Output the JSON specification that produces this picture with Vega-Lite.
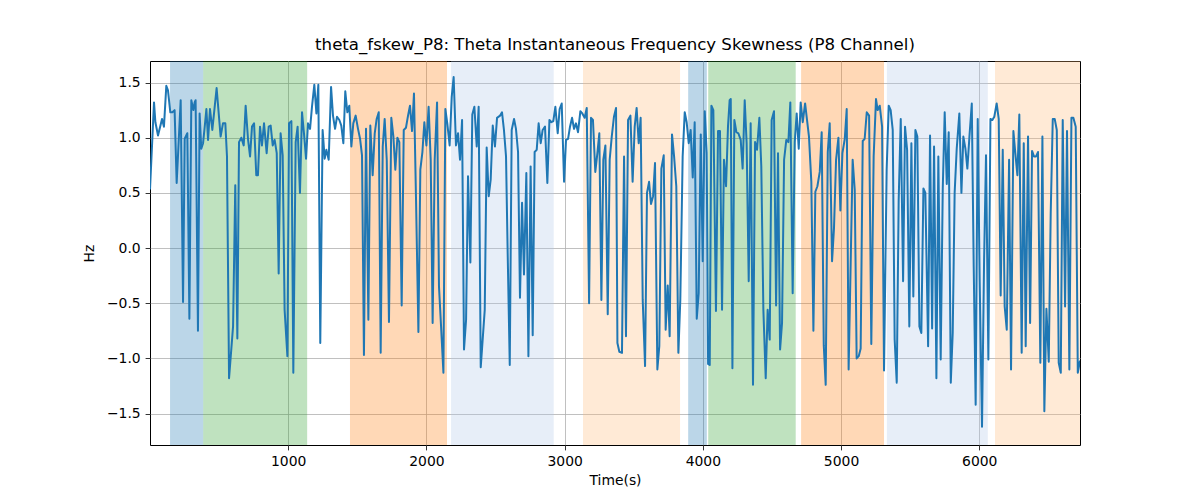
{
  "$schema": "https://vega.github.io/schema/vega-lite/v6.json",
  "width": 930,
  "height": 384,
  "autosize": {"type": "none"},
  "padding": {"left": 150, "top": 61, "right": 120, "bottom": 55},
  "background": "white",
  "title": {
    "text": "theta_fskew_P8: Theta Instantaneous Frequency Skewness (P8 Channel)",
    "font": "DejaVu Sans",
    "fontSize": 16.6,
    "fontWeight": "normal",
    "color": "black",
    "anchor": "middle",
    "offset": 7
  },
  "config": {
    "view": {"stroke": "black", "strokeWidth": 1},
    "axis": {
      "domain": false,
      "grid": true,
      "gridColor": "#b0b0b0",
      "gridWidth": 0.8,
      "tickColor": "black",
      "tickSize": 4.9,
      "tickWidth": 0.8,
      "labelFont": "DejaVu Sans",
      "labelFontSize": 13.9,
      "labelColor": "black",
      "labelPadding": 4.9,
      "titleFont": "DejaVu Sans",
      "titleFontSize": 13.9,
      "titleFontWeight": "normal",
      "titleColor": "black",
      "labelOverlap": false
    }
  },
  "datasets": {
    "spans": [
      {"start": 145, "end": 385, "kind": "s1"},
      {"start": 385, "end": 1137, "kind": "s2"},
      {"start": 1447, "end": 2149, "kind": "s3"},
      {"start": 2178, "end": 2921, "kind": "s4"},
      {"start": 3133, "end": 3835, "kind": "s5"},
      {"start": 3894, "end": 4029, "kind": "s1"},
      {"start": 4039, "end": 4672, "kind": "s2"},
      {"start": 4711, "end": 5311, "kind": "s3"},
      {"start": 5332, "end": 6062, "kind": "s4"},
      {"start": 6114, "end": 6729, "kind": "s5"}
    ],
    "series": [
      {"time": 0, "hz": 0.53}, {"time": 29, "hz": 1.32}, {"time": 39, "hz": 1.14}, {"time": 58, "hz": 1.02},
      {"time": 87, "hz": 1.17}, {"time": 101, "hz": 1.10}, {"time": 118, "hz": 1.47}, {"time": 130, "hz": 1.43},
      {"time": 147, "hz": 1.23}, {"time": 162, "hz": 1.23}, {"time": 178, "hz": 1.25}, {"time": 193, "hz": 0.59},
      {"time": 222, "hz": 1.34}, {"time": 239, "hz": -0.49}, {"time": 251, "hz": 0.99}, {"time": 270, "hz": 1.04},
      {"time": 285, "hz": -0.64}, {"time": 299, "hz": 1.34}, {"time": 314, "hz": 1.25}, {"time": 323, "hz": 1.32},
      {"time": 330, "hz": 1.34}, {"time": 347, "hz": -0.75}, {"time": 359, "hz": 1.22}, {"time": 371, "hz": 0.90},
      {"time": 384, "hz": 0.95}, {"time": 396, "hz": 1.10}, {"time": 408, "hz": 1.26}, {"time": 420, "hz": 0.98},
      {"time": 434, "hz": 1.26}, {"time": 451, "hz": 1.07}, {"time": 482, "hz": 1.45}, {"time": 511, "hz": 1.01},
      {"time": 528, "hz": 1.13}, {"time": 545, "hz": 1.13}, {"time": 557, "hz": 0.83}, {"time": 572, "hz": -1.18},
      {"time": 601, "hz": -0.71}, {"time": 617, "hz": 0.57}, {"time": 632, "hz": -0.82}, {"time": 644, "hz": 0.96},
      {"time": 661, "hz": 1.00}, {"time": 678, "hz": 0.93}, {"time": 692, "hz": 1.29}, {"time": 709, "hz": 0.99},
      {"time": 724, "hz": 0.83}, {"time": 738, "hz": 1.10}, {"time": 753, "hz": 1.13}, {"time": 769, "hz": 0.66},
      {"time": 781, "hz": 0.66}, {"time": 796, "hz": 1.10}, {"time": 810, "hz": 0.93}, {"time": 825, "hz": 1.13},
      {"time": 844, "hz": 0.86}, {"time": 859, "hz": 1.10}, {"time": 873, "hz": 1.11}, {"time": 888, "hz": 0.93},
      {"time": 902, "hz": 0.98}, {"time": 917, "hz": 0.86}, {"time": 931, "hz": -0.23}, {"time": 945, "hz": 1.04},
      {"time": 960, "hz": 0.84}, {"time": 974, "hz": -0.56}, {"time": 994, "hz": -0.98}, {"time": 1006, "hz": 1.13},
      {"time": 1023, "hz": 1.15}, {"time": 1037, "hz": -1.13}, {"time": 1054, "hz": 0.96}, {"time": 1068, "hz": 1.10},
      {"time": 1085, "hz": 0.50}, {"time": 1100, "hz": 1.23}, {"time": 1114, "hz": 1.04}, {"time": 1129, "hz": 0.81},
      {"time": 1143, "hz": 1.13}, {"time": 1158, "hz": 1.08}, {"time": 1172, "hz": 1.28}, {"time": 1189, "hz": 1.48},
      {"time": 1204, "hz": 1.22}, {"time": 1218, "hz": 1.48}, {"time": 1232, "hz": -0.86}, {"time": 1249, "hz": 1.07},
      {"time": 1264, "hz": 0.81}, {"time": 1276, "hz": 0.89}, {"time": 1293, "hz": 0.80}, {"time": 1310, "hz": 1.46},
      {"time": 1324, "hz": 1.20}, {"time": 1339, "hz": 1.08}, {"time": 1353, "hz": 1.19}, {"time": 1370, "hz": 1.16},
      {"time": 1384, "hz": 1.11}, {"time": 1399, "hz": 0.95}, {"time": 1413, "hz": 1.42}, {"time": 1428, "hz": 1.23},
      {"time": 1442, "hz": 1.29}, {"time": 1457, "hz": 0.92}, {"time": 1471, "hz": 1.13}, {"time": 1488, "hz": 1.20},
      {"time": 1505, "hz": 1.08}, {"time": 1520, "hz": 0.99}, {"time": 1534, "hz": 0.84}, {"time": 1548, "hz": -0.97},
      {"time": 1563, "hz": 1.08}, {"time": 1580, "hz": -0.65}, {"time": 1594, "hz": 1.11}, {"time": 1611, "hz": 0.66},
      {"time": 1626, "hz": 1.04}, {"time": 1640, "hz": 1.17}, {"time": 1655, "hz": 1.23}, {"time": 1669, "hz": -0.95},
      {"time": 1684, "hz": 0.92}, {"time": 1698, "hz": 1.17}, {"time": 1713, "hz": 0.80}, {"time": 1729, "hz": -0.67},
      {"time": 1746, "hz": 1.18}, {"time": 1761, "hz": 1.01}, {"time": 1775, "hz": 0.71}, {"time": 1790, "hz": 1.00},
      {"time": 1804, "hz": 0.96}, {"time": 1821, "hz": -0.52}, {"time": 1836, "hz": 1.07}, {"time": 1852, "hz": 1.09},
      {"time": 1867, "hz": 1.20}, {"time": 1881, "hz": 1.29}, {"time": 1896, "hz": 1.06}, {"time": 1910, "hz": 1.40},
      {"time": 1925, "hz": 0.43}, {"time": 1942, "hz": -0.76}, {"time": 1956, "hz": 0.71}, {"time": 1971, "hz": 0.87},
      {"time": 1985, "hz": 1.14}, {"time": 2000, "hz": 0.93}, {"time": 2016, "hz": 1.28}, {"time": 2031, "hz": 0.80},
      {"time": 2045, "hz": -0.68}, {"time": 2060, "hz": 0.80}, {"time": 2077, "hz": 1.32}, {"time": 2091, "hz": -0.35},
      {"time": 2106, "hz": -0.71}, {"time": 2123, "hz": -1.13}, {"time": 2137, "hz": 1.26}, {"time": 2151, "hz": 1.13},
      {"time": 2168, "hz": 0.93}, {"time": 2183, "hz": 1.37}, {"time": 2197, "hz": 1.55}, {"time": 2214, "hz": 0.93},
      {"time": 2229, "hz": 1.04}, {"time": 2243, "hz": 0.80}, {"time": 2258, "hz": 1.16}, {"time": 2272, "hz": -0.92},
      {"time": 2287, "hz": -0.65}, {"time": 2301, "hz": 0.65}, {"time": 2318, "hz": -0.13}, {"time": 2332, "hz": 1.21},
      {"time": 2347, "hz": 1.28}, {"time": 2364, "hz": 0.92}, {"time": 2378, "hz": 1.28}, {"time": 2393, "hz": -1.08},
      {"time": 2407, "hz": -0.83}, {"time": 2422, "hz": -0.56}, {"time": 2436, "hz": 0.91}, {"time": 2451, "hz": 0.47},
      {"time": 2465, "hz": 0.62}, {"time": 2480, "hz": 1.11}, {"time": 2496, "hz": 0.92}, {"time": 2511, "hz": 1.18},
      {"time": 2533, "hz": 1.20}, {"time": 2547, "hz": 1.23}, {"time": 2561, "hz": 1.07}, {"time": 2576, "hz": 0.83},
      {"time": 2588, "hz": -0.05}, {"time": 2603, "hz": -1.06}, {"time": 2617, "hz": 1.07}, {"time": 2634, "hz": 1.17},
      {"time": 2648, "hz": 1.08}, {"time": 2663, "hz": 0.87}, {"time": 2677, "hz": -0.45}, {"time": 2692, "hz": 0.41},
      {"time": 2706, "hz": -0.24}, {"time": 2723, "hz": 0.68}, {"time": 2738, "hz": -0.98}, {"time": 2754, "hz": 0.74},
      {"time": 2769, "hz": -0.79}, {"time": 2783, "hz": 0.87}, {"time": 2798, "hz": 0.89}, {"time": 2812, "hz": 1.13},
      {"time": 2827, "hz": 0.95}, {"time": 2841, "hz": 1.07}, {"time": 2858, "hz": 1.10}, {"time": 2875, "hz": 0.59},
      {"time": 2890, "hz": 1.16}, {"time": 2904, "hz": 1.14}, {"time": 2918, "hz": 1.15}, {"time": 2933, "hz": 1.28},
      {"time": 2950, "hz": 1.04}, {"time": 2964, "hz": 1.26}, {"time": 2979, "hz": 1.31}, {"time": 2996, "hz": 0.60},
      {"time": 3010, "hz": 0.98}, {"time": 3025, "hz": 0.99}, {"time": 3039, "hz": 1.10}, {"time": 3054, "hz": 1.18},
      {"time": 3068, "hz": 1.08}, {"time": 3082, "hz": 1.13}, {"time": 3097, "hz": 1.05}, {"time": 3114, "hz": 1.24},
      {"time": 3128, "hz": 1.22}, {"time": 3145, "hz": 1.18}, {"time": 3160, "hz": 1.27}, {"time": 3177, "hz": -0.50},
      {"time": 3191, "hz": 1.18}, {"time": 3205, "hz": 1.16}, {"time": 3222, "hz": 0.69}, {"time": 3237, "hz": 0.86},
      {"time": 3251, "hz": 1.04}, {"time": 3266, "hz": -0.47}, {"time": 3280, "hz": 0.80}, {"time": 3295, "hz": 0.93},
      {"time": 3312, "hz": -0.60}, {"time": 3326, "hz": 0.80}, {"time": 3341, "hz": 1.01}, {"time": 3357, "hz": 1.19},
      {"time": 3372, "hz": 1.27}, {"time": 3382, "hz": -0.86}, {"time": 3396, "hz": -0.94}, {"time": 3415, "hz": -0.95},
      {"time": 3430, "hz": 0.83}, {"time": 3444, "hz": -0.80}, {"time": 3459, "hz": 1.16}, {"time": 3476, "hz": 1.20},
      {"time": 3492, "hz": 0.60}, {"time": 3507, "hz": 1.10}, {"time": 3521, "hz": 1.27}, {"time": 3536, "hz": 0.95},
      {"time": 3550, "hz": 1.18}, {"time": 3565, "hz": -0.47}, {"time": 3582, "hz": -1.07}, {"time": 3596, "hz": 0.50},
      {"time": 3611, "hz": 0.60}, {"time": 3625, "hz": 0.40}, {"time": 3640, "hz": 0.47}, {"time": 3654, "hz": 0.77},
      {"time": 3671, "hz": -1.10}, {"time": 3685, "hz": -0.89}, {"time": 3700, "hz": 0.72}, {"time": 3717, "hz": 0.84},
      {"time": 3731, "hz": -0.74}, {"time": 3746, "hz": -0.34}, {"time": 3760, "hz": -0.80}, {"time": 3777, "hz": 1.03},
      {"time": 3792, "hz": 0.83}, {"time": 3808, "hz": 0.56}, {"time": 3823, "hz": -0.95}, {"time": 3837, "hz": -0.47},
      {"time": 3854, "hz": 0.83}, {"time": 3869, "hz": 1.23}, {"time": 3883, "hz": 1.14}, {"time": 3898, "hz": 0.95},
      {"time": 3912, "hz": 1.07}, {"time": 3927, "hz": 0.64}, {"time": 3941, "hz": 1.14}, {"time": 3956, "hz": -0.64},
      {"time": 3970, "hz": -0.41}, {"time": 3985, "hz": 1.03}, {"time": 3999, "hz": -0.12}, {"time": 4014, "hz": 1.24},
      {"time": 4028, "hz": 0.86}, {"time": 4038, "hz": -1.05}, {"time": 4050, "hz": -1.06}, {"time": 4062, "hz": 1.29},
      {"time": 4076, "hz": 1.25}, {"time": 4095, "hz": -0.57}, {"time": 4110, "hz": 1.06}, {"time": 4124, "hz": 1.06},
      {"time": 4139, "hz": -0.56}, {"time": 4153, "hz": 0.80}, {"time": 4168, "hz": 0.56}, {"time": 4182, "hz": 1.10},
      {"time": 4194, "hz": 1.34}, {"time": 4202, "hz": 1.35}, {"time": 4214, "hz": -1.09}, {"time": 4228, "hz": 1.16},
      {"time": 4243, "hz": 1.05}, {"time": 4257, "hz": 1.04}, {"time": 4274, "hz": 0.98}, {"time": 4288, "hz": 0.72},
      {"time": 4303, "hz": 1.34}, {"time": 4317, "hz": 0.95}, {"time": 4332, "hz": -0.30}, {"time": 4346, "hz": 1.13},
      {"time": 4363, "hz": -1.24}, {"time": 4378, "hz": 0.96}, {"time": 4392, "hz": 0.89}, {"time": 4409, "hz": 1.18},
      {"time": 4423, "hz": 0.74}, {"time": 4438, "hz": -0.56}, {"time": 4455, "hz": -1.18}, {"time": 4469, "hz": -0.56},
      {"time": 4484, "hz": -0.83}, {"time": 4498, "hz": 1.16}, {"time": 4515, "hz": 1.24}, {"time": 4530, "hz": -0.52},
      {"time": 4544, "hz": 0.86}, {"time": 4559, "hz": -0.92}, {"time": 4573, "hz": -0.68}, {"time": 4588, "hz": 0.80},
      {"time": 4604, "hz": 0.98}, {"time": 4619, "hz": 0.96}, {"time": 4633, "hz": 1.32}, {"time": 4650, "hz": -0.41},
      {"time": 4665, "hz": 0.96}, {"time": 4679, "hz": 1.22}, {"time": 4694, "hz": 0.90}, {"time": 4708, "hz": 1.32},
      {"time": 4723, "hz": 1.14}, {"time": 4740, "hz": 1.31}, {"time": 4754, "hz": 1.16}, {"time": 4768, "hz": 1.01},
      {"time": 4785, "hz": 0.60}, {"time": 4800, "hz": -0.75}, {"time": 4814, "hz": 0.51}, {"time": 4829, "hz": 0.56},
      {"time": 4846, "hz": 0.69}, {"time": 4860, "hz": 1.05}, {"time": 4875, "hz": -0.88}, {"time": 4889, "hz": -1.24},
      {"time": 4904, "hz": 0.87}, {"time": 4918, "hz": 1.13}, {"time": 4935, "hz": -0.12}, {"time": 4949, "hz": 0.18},
      {"time": 4964, "hz": 0.80}, {"time": 4981, "hz": 1.00}, {"time": 4995, "hz": 0.34}, {"time": 5010, "hz": 0.86},
      {"time": 5027, "hz": 0.99}, {"time": 5041, "hz": 1.26}, {"time": 5055, "hz": -1.10}, {"time": 5084, "hz": 0.80},
      {"time": 5099, "hz": 0.53}, {"time": 5113, "hz": -1.00}, {"time": 5128, "hz": -0.98}, {"time": 5142, "hz": -0.91},
      {"time": 5157, "hz": 0.97}, {"time": 5171, "hz": 0.99}, {"time": 5186, "hz": 1.23}, {"time": 5203, "hz": 1.20},
      {"time": 5219, "hz": -0.87}, {"time": 5236, "hz": 0.83}, {"time": 5253, "hz": 1.35}, {"time": 5265, "hz": 1.25},
      {"time": 5280, "hz": 1.29}, {"time": 5297, "hz": 1.10}, {"time": 5311, "hz": -1.11}, {"time": 5330, "hz": 0.71},
      {"time": 5345, "hz": 1.29}, {"time": 5359, "hz": 1.25}, {"time": 5374, "hz": 1.07}, {"time": 5388, "hz": -0.83},
      {"time": 5403, "hz": -1.22}, {"time": 5417, "hz": 0.43}, {"time": 5432, "hz": 1.17}, {"time": 5449, "hz": -0.30},
      {"time": 5463, "hz": 1.10}, {"time": 5478, "hz": 0.89}, {"time": 5494, "hz": -0.71}, {"time": 5509, "hz": 0.95},
      {"time": 5523, "hz": -0.44}, {"time": 5538, "hz": 1.07}, {"time": 5552, "hz": 1.01}, {"time": 5567, "hz": -0.71},
      {"time": 5581, "hz": -0.77}, {"time": 5596, "hz": 0.54}, {"time": 5610, "hz": 0.50}, {"time": 5630, "hz": -0.89},
      {"time": 5644, "hz": 1.02}, {"time": 5659, "hz": -0.73}, {"time": 5673, "hz": 0.92}, {"time": 5690, "hz": -1.18},
      {"time": 5704, "hz": 0.83}, {"time": 5721, "hz": -1.01}, {"time": 5736, "hz": 0.54}, {"time": 5750, "hz": 1.23},
      {"time": 5765, "hz": 0.58}, {"time": 5779, "hz": 1.05}, {"time": 5794, "hz": -1.22}, {"time": 5808, "hz": -0.77},
      {"time": 5822, "hz": 0.50}, {"time": 5837, "hz": 0.90}, {"time": 5856, "hz": 1.22}, {"time": 5871, "hz": 0.50},
      {"time": 5885, "hz": 1.01}, {"time": 5900, "hz": 0.90}, {"time": 5914, "hz": 0.72}, {"time": 5929, "hz": 1.01},
      {"time": 5946, "hz": 1.31}, {"time": 5960, "hz": -0.17}, {"time": 5974, "hz": -1.42}, {"time": 5989, "hz": 1.17},
      {"time": 6003, "hz": -0.29}, {"time": 6020, "hz": -1.62}, {"time": 6035, "hz": -0.11}, {"time": 6049, "hz": 0.84},
      {"time": 6066, "hz": -1.01}, {"time": 6081, "hz": 1.17}, {"time": 6095, "hz": 1.16}, {"time": 6109, "hz": 1.19},
      {"time": 6126, "hz": 1.31}, {"time": 6141, "hz": 1.17}, {"time": 6155, "hz": -0.43}, {"time": 6170, "hz": 0.89},
      {"time": 6184, "hz": -0.53}, {"time": 6199, "hz": -0.74}, {"time": 6216, "hz": 0.80}, {"time": 6230, "hz": -1.10},
      {"time": 6247, "hz": 1.06}, {"time": 6261, "hz": 0.86}, {"time": 6276, "hz": 0.66}, {"time": 6290, "hz": 1.21},
      {"time": 6307, "hz": -0.95}, {"time": 6322, "hz": 0.95}, {"time": 6336, "hz": -0.89}, {"time": 6353, "hz": 1.01},
      {"time": 6368, "hz": -0.68}, {"time": 6382, "hz": 0.88}, {"time": 6396, "hz": 0.83}, {"time": 6411, "hz": 0.83},
      {"time": 6425, "hz": 0.87}, {"time": 6442, "hz": -1.04}, {"time": 6457, "hz": 1.01}, {"time": 6471, "hz": -1.48},
      {"time": 6486, "hz": -0.55}, {"time": 6503, "hz": -1.03}, {"time": 6517, "hz": 0.31}, {"time": 6532, "hz": 1.17},
      {"time": 6546, "hz": 1.17}, {"time": 6561, "hz": 1.07}, {"time": 6575, "hz": -1.04}, {"time": 6590, "hz": -1.13},
      {"time": 6604, "hz": 1.16}, {"time": 6621, "hz": -0.53}, {"time": 6635, "hz": 1.06}, {"time": 6652, "hz": -1.10},
      {"time": 6667, "hz": 1.18}, {"time": 6681, "hz": 1.18}, {"time": 6698, "hz": 1.10}, {"time": 6713, "hz": -1.13},
      {"time": 6729, "hz": -1.02}
    ]
  },
  "layer": [
    {
      "data": {"name": "spans"},
      "mark": {"type": "rect", "opacity": 0.3},
      "encoding": {
        "x": {
          "field": "start",
          "type": "quantitative",
          "scale": {"domain": [0, 6729], "nice": false, "zero": false},
          "axis": {"title": "Time(s)", "values": [1000, 2000, 3000, 4000, 5000, 6000], "format": "d", "titlePadding": 5}
        },
        "x2": {"field": "end"},
        "color": {
          "field": "kind",
          "type": "nominal",
          "scale": {"domain": ["s1", "s2", "s3", "s4", "s5"], "range": ["#1f77b4", "#2ca02c", "#ff7f0e", "#aec7e8", "#ffbb78"]},
          "legend": null
        }
      }
    },
    {
      "data": {"name": "series"},
      "mark": {"type": "line", "color": "#1f77b4", "strokeWidth": 2, "strokeJoin": "round", "clip": true},
      "encoding": {
        "x": {"field": "time", "type": "quantitative"},
        "y": {
          "field": "hz",
          "type": "quantitative",
          "scale": {"domain": [-1.785, 1.695], "nice": false, "zero": false},
          "axis": {"title": "Hz", "values": [-1.5, -1.0, -0.5, 0.0, 0.5, 1.0, 1.5], "format": ".1f", "titlePadding": 10}
        }
      }
    }
  ]
}
